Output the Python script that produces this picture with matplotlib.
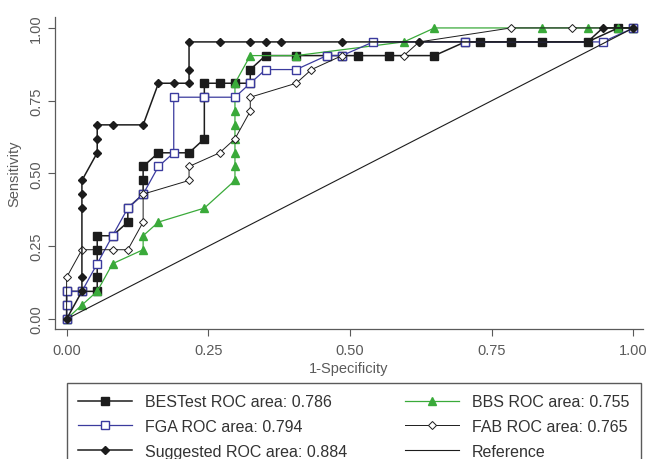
import matplotlib.pyplot as plt

plt.rcParams['font.family'] = ['Liberation Sans', 'DejaVu Sans']

# ROC points (1-specificity, sensitivity)
best_fpr = [0.000, 0.000, 0.000, 0.027, 0.054, 0.054, 0.054, 0.054, 0.081, 0.108, 0.108, 0.135, 0.135, 0.135,
            0.162, 0.216, 0.243, 0.243, 0.243, 0.270, 0.297, 0.324, 0.324, 0.351, 0.405, 0.459, 0.486, 0.514,
            0.568, 0.649, 0.703, 0.730, 0.784, 0.838, 0.919, 0.973, 1.000]
best_sens = [0.000, 0.048, 0.095, 0.095, 0.095, 0.143, 0.238, 0.286, 0.286, 0.333, 0.381, 0.429, 0.476, 0.524,
             0.571, 0.571, 0.619, 0.762, 0.810, 0.810, 0.810, 0.810, 0.857, 0.905, 0.905, 0.905, 0.905, 0.905,
             0.905, 0.905, 0.952, 0.952, 0.952, 0.952, 0.952, 1.000, 1.000]

bbs_fpr = [0.000, 0.027, 0.054, 0.081, 0.135, 0.135, 0.162, 0.243, 0.297, 0.297, 0.297, 0.297, 0.297, 0.297,
           0.297, 0.297, 0.324, 0.405, 0.595, 0.649, 0.838, 0.919, 0.973, 1.000]
bbs_sens = [0.000, 0.048, 0.095, 0.190, 0.238, 0.286, 0.333, 0.381, 0.476, 0.524, 0.571, 0.619, 0.667, 0.714,
            0.762, 0.810, 0.905, 0.905, 0.952, 1.000, 1.000, 1.000, 1.000, 1.000]

fga_fpr = [0.000, 0.000, 0.000, 0.027, 0.054, 0.081, 0.108, 0.135, 0.162, 0.189, 0.189, 0.243, 0.297, 0.324,
           0.351, 0.405, 0.459, 0.486, 0.541, 0.703, 0.946, 1.000]
fga_sens = [0.000, 0.048, 0.095, 0.095, 0.190, 0.286, 0.381, 0.429, 0.524, 0.571, 0.762, 0.762, 0.762, 0.810,
            0.857, 0.857, 0.905, 0.905, 0.952, 0.952, 0.952, 1.000]

fab_fpr = [0.000, 0.000, 0.027, 0.081, 0.108, 0.135, 0.135, 0.216, 0.216, 0.270, 0.297, 0.324, 0.324, 0.405,
           0.432, 0.486, 0.595, 0.622, 0.784, 0.892, 1.000]
fab_sens = [0.000, 0.143, 0.238, 0.238, 0.238, 0.333, 0.429, 0.476, 0.524, 0.571, 0.619, 0.714, 0.762, 0.810,
            0.857, 0.905, 0.905, 0.952, 1.000, 1.000, 1.000]

sug_fpr = [0.000, 0.027, 0.027, 0.027, 0.027, 0.027, 0.054, 0.054, 0.054, 0.081, 0.135, 0.162, 0.189, 0.216,
           0.216, 0.216, 0.270, 0.324, 0.351, 0.378, 0.486, 0.622, 0.919, 0.946, 1.000]
sug_sens = [0.000, 0.095, 0.143, 0.381, 0.429, 0.476, 0.571, 0.619, 0.667, 0.667, 0.667, 0.810, 0.810, 0.810,
            0.857, 0.952, 0.952, 0.952, 0.952, 0.952, 0.952, 0.952, 0.952, 1.000, 1.000]

ref = [0, 1]

labels = ["BESTest ROC area: 0.786", "BBS ROC area: 0.755", "FGA ROC area: 0.794",
          "FAB ROC area: 0.765", "Suggested ROC area: 0.884", "Reference"]
ticks = [0, 0.25, 0.5, 0.75, 1]
tick_labels = ["0.00", "0.25", "0.50", "0.75", "1.00"]

grey = "#5a5a5a"
fig = plt.figure(figsize=(6.5, 4.6), dpi=100)
ax = fig.add_axes([0.0846, 0.2826, 0.9044, 0.6784])

h_best, = ax.plot(best_fpr, best_sens, "-s", color="#1c1c1c", lw=1.1, ms=5.5, label=labels[0])
h_bbs, = ax.plot(bbs_fpr, bbs_sens, "-^", color="#3aaa3a", lw=0.9, ms=6, label=labels[1])
h_fga, = ax.plot(fga_fpr, fga_sens, "-s", color="#3b3b9e", lw=0.9, ms=5.5, mfc="white", mew=1.0, label=labels[2])
h_fab, = ax.plot(fab_fpr, fab_sens, "-D", color="#1c1c1c", lw=0.7, ms=4.5, mfc="white", mew=0.7, label=labels[3])
h_sug, = ax.plot(sug_fpr, sug_sens, "-D", color="#1c1c1c", lw=1.1, ms=4.5, label=labels[4])
h_ref, = ax.plot(ref, ref, "-", color="#1c1c1c", lw=0.8, label=labels[5])

ax.set_xlim(-0.0205, 1.0166)
ax.set_ylim(-0.0344, 1.0378)
ax.set_xticks(ticks)
ax.set_xticklabels(tick_labels)
ax.set_yticks(ticks)
ax.set_yticklabels(tick_labels, rotation=90, va="center")
ax.tick_params(colors=grey, labelcolor=grey, labelsize=10.5, length=5, width=0.8, direction="out")
ax.tick_params(axis="x", pad=5)
for s in ["top", "right"]:
    ax.spines[s].set_visible(False)
for s in ["left", "bottom"]:
    ax.spines[s].set_color(grey)
    ax.spines[s].set_linewidth(0.9)

ax.set_xlabel("1-Specificity", color=grey, fontsize=10.5, labelpad=3)
ax.set_ylabel("Sensitivity", color=grey, fontsize=10.5, labelpad=6)

# legend reads row-wise in the original: fill columns accordingly
handles = [h_best, h_fga, h_sug, h_bbs, h_fab, h_ref]
fig.legend(handles=handles, labels=[h.get_label() for h in handles],
           loc="upper left", bbox_to_anchor=(67/650, 1 - 384/460), borderaxespad=0,
           ncol=2, fancybox=False, edgecolor=grey, fontsize=11.5, handlelength=3.4,
           handletextpad=0.8, columnspacing=3.6, labelspacing=0.62,
           borderpad=0.7, framealpha=1, labelcolor="#333333")

fig.savefig("out.png", dpi=100)
